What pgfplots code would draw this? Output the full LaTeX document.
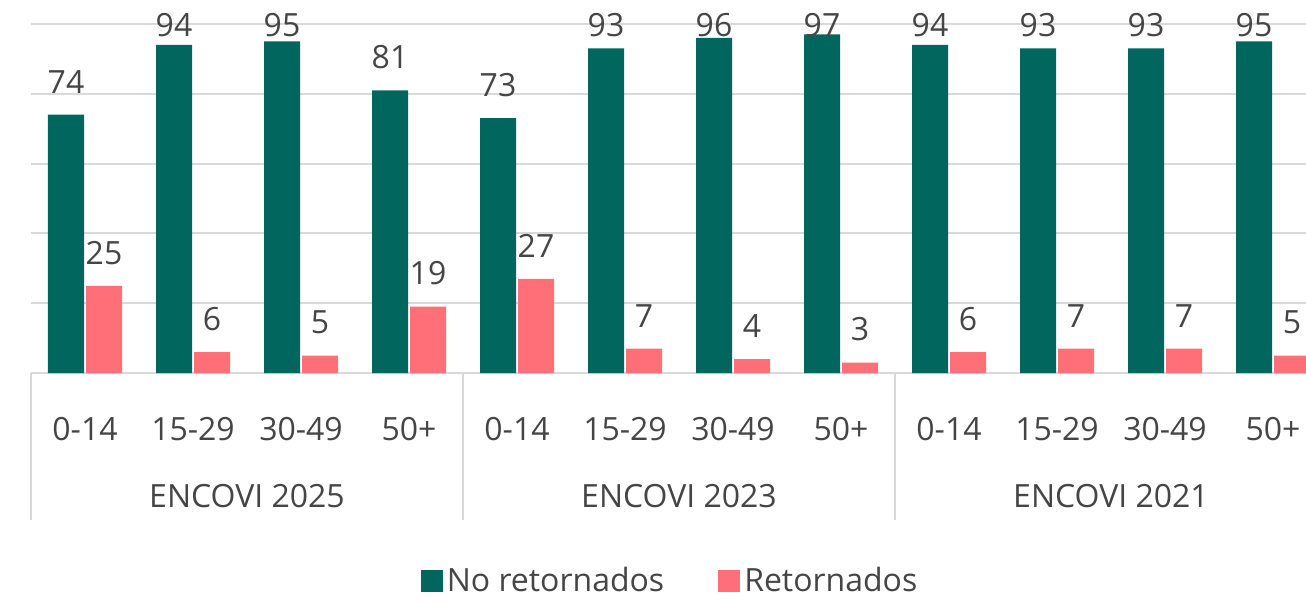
\documentclass[border=0pt]{standalone}
\usepackage{fontspec}
\setmainfont{Open Sans}
\usepackage{pgfplots}
\usepackage{pgfplotstable}
\pgfplotsset{compat=1.18}

\definecolor{teal1}{HTML}{00665E}
\definecolor{pink1}{HTML}{FF6F77}
\definecolor{txt}{HTML}{454545}
\definecolor{gridc}{HTML}{D9D9D9}

% age group, no retornados, retornados
\pgfplotstableread{
x no ret
0 74 25
1 94 6
2 95 5
3 81 19
4 73 27
5 93 7
6 96 4
7 97 3
8 94 6
9 93 7
10 93 7
11 95 5
}\datatable

\begin{document}
\begin{tikzpicture}
\begin{axis}[
    x=54pt, y=1.745pt,
    xmin=-0.5, xmax=11.3056,
    ymin=0, ymax=106.88,
    ybar=1pt,
    bar width=18pt,
    axis line style={draw=none},
    tick style={draw=none},
    ytick={0,20,40,60,80,100},
    yticklabels={},
    ymajorgrids,
    grid style={gridc, line width=1pt},
    xtick={0,...,11},
    xticklabels={0-14,15-29,30-49,50+,0-14,15-29,30-49,50+,0-14,15-29,30-49,50+},
    xticklabel style={anchor=base, yshift=-29.5pt, text=txt},
    font=\fontsize{16}{19}\selectfont,
    /pgf/number format/assume math mode=true,
    nodes near coords,
    visualization depends on={min(10.5,168-1.745*y) \as \lblshift},
    nodes near coords style={anchor=south, inner sep=0pt, yshift=\lblshift pt, text=txt,
        font=\fontsize{16}{19}\selectfont},
    legend style={at={(0.502,-0.558)}, anchor=center, draw=none, fill=none,
        legend columns=2, inner sep=0pt, text=txt,
        font=\fontsize{16}{19}\selectfont,
        /tikz/every even column/.append style={column sep=25pt}},
    legend image code/.code={\fill[#1] (0pt,-5.5pt) rectangle (11pt,5.5pt);},
]
\addplot[fill=teal1, draw=none] table[x=x, y=no] \datatable;
\addlegendentry{No retornados}
\addplot[fill=pink1, draw=none] table[x=x, y=ret] \datatable;
\addlegendentry{Retornados}
\coordinate (s0) at (axis cs:-0.5,0);
\coordinate (s1) at (axis cs:3.5,0);
\coordinate (s2) at (axis cs:7.5,0);
\coordinate (g0) at (axis cs:1.5,0);
\coordinate (g1) at (axis cs:5.5,0);
\coordinate (g2) at (axis cs:9.5,0);
\end{axis}
\foreach \s in {s0,s1,s2}
  \draw[gridc, line width=1pt] (\s) -- ++(0,-73.5pt);
\foreach \g/\t in {g0/ENCOVI 2025,g1/ENCOVI 2023,g2/ENCOVI 2021}
  \node[anchor=base, inner sep=0pt, text=txt, font=\fontsize{16}{19}\selectfont]
    at ([yshift=-67pt]\g) {\t};
\pgfresetboundingbox
\path[use as bounding box] (-15.5pt,-114.5pt) rectangle (637.5pt,186.5pt);
\end{tikzpicture}
\end{document}
